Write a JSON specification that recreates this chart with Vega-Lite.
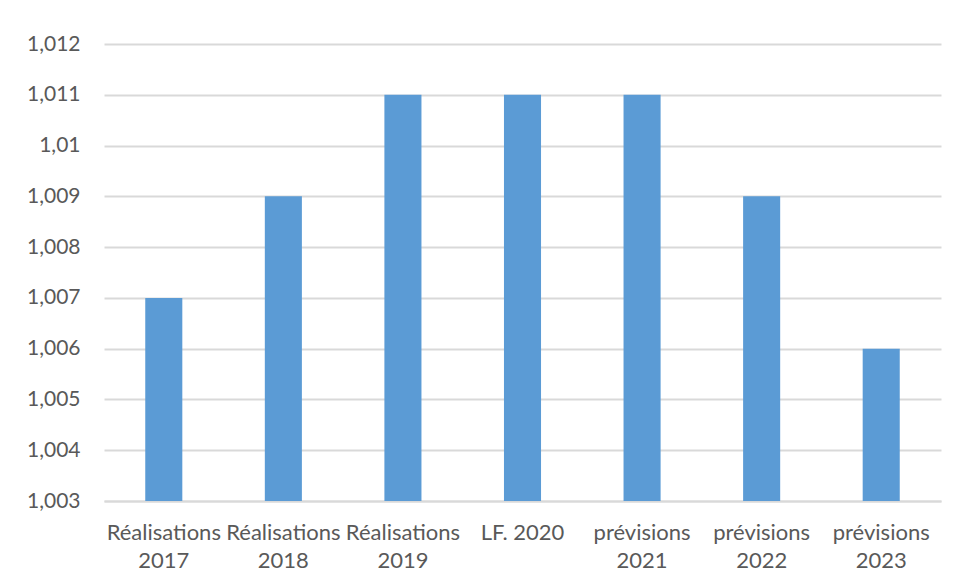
{
  "$schema": "https://vega.github.io/schema/vega-lite/v6.json",
  "autosize": "none",
  "width": 837,
  "height": 457,
  "padding": {"left": 104, "top": 44, "right": 14, "bottom": 84},
  "background": "white",
  "data": {
    "values": [
      {"categorie": "Réalisations 2017", "valeur": 1.007},
      {"categorie": "Réalisations 2018", "valeur": 1.009},
      {"categorie": "Réalisations 2019", "valeur": 1.011},
      {"categorie": "LF. 2020", "valeur": 1.011},
      {"categorie": "prévisions 2021", "valeur": 1.011},
      {"categorie": "prévisions 2022", "valeur": 1.009},
      {"categorie": "prévisions 2023", "valeur": 1.006}
    ]
  },
  "mark": {"type": "bar", "color": "#5B9BD5"},
  "encoding": {
    "x": {
      "field": "categorie",
      "type": "nominal",
      "sort": null,
      "scale": {"paddingInner": 0.69, "paddingOuter": 0.345},
      "axis": {
        "title": null,
        "labelAngle": 0,
        "ticks": false,
        "domainColor": "#d9d9d9",
        "domainWidth": 2,
        "labelFont": "Lato",
        "labelFontSize": 22,
        "labelColor": "#595959",
        "labelPadding": 21,
        "labelLineHeight": 28,
        "labelExpr": "datum.value == 'LF. 2020' ? datum.value : split(datum.value, ' ')"
      }
    },
    "y": {
      "field": "valeur",
      "type": "quantitative",
      "scale": {"domain": [1.003, 1.012], "zero": false, "nice": false},
      "axis": {
        "title": null,
        "values": [1.003, 1.004, 1.005, 1.006, 1.007, 1.008, 1.009, 1.01, 1.011, 1.012],
        "ticks": false,
        "domain": false,
        "gridColor": "#d9d9d9",
        "gridWidth": 2,
        "labelFont": "Lato",
        "labelFontSize": 21,
        "labelColor": "#595959",
        "labelPadding": 24,
        "labelExpr": "replace(toString(round(datum.value * 1000) / 1000), '.', ',')"
      }
    },
    "y2": {"datum": 1.003}
  },
  "config": {"view": {"stroke": null}}
}
